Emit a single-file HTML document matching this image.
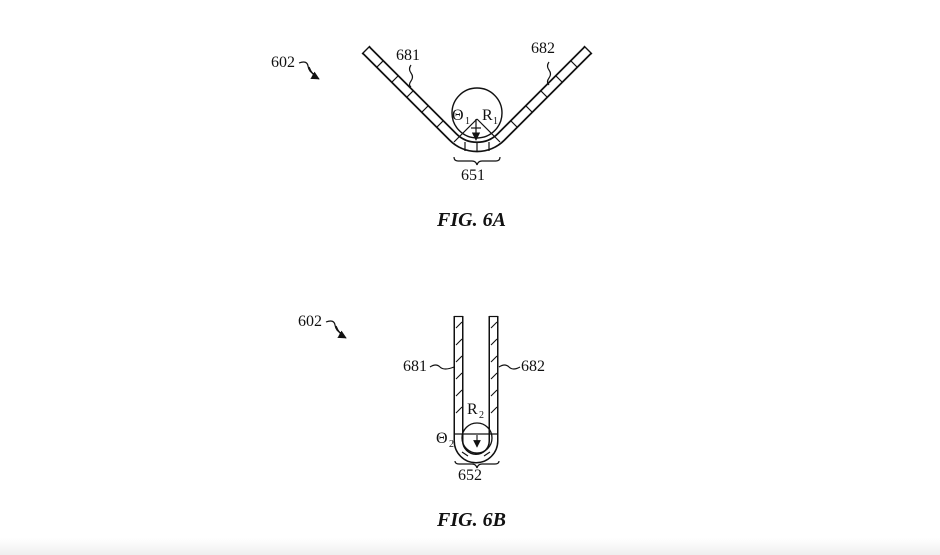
<!DOCTYPE html>
<html><head><style>
html,body{margin:0;padding:0;background:#fff;}
body{width:940px;height:555px;overflow:hidden;position:relative;}
svg{position:absolute;left:0;top:0;}
text{font-family:"Liberation Serif",serif;fill:#111;}
</style></head><body>
<div style="position:absolute;left:0;top:538px;width:940px;height:17px;background:linear-gradient(#fff,#efefef);"></div>
<svg width="940" height="555" viewBox="0 0 940 555">
<defs>
<marker id="ah" viewBox="0 0 10 10" refX="9" refY="5" markerWidth="7" markerHeight="7" orient="auto"><path d="M0,0 L10,5 L0,10 z" fill="#111"/></marker>
</defs>
<!-- FIG 6A -->
<path d="M366,50 L453,137 A34,34 0 0 0 501,137 L588,50" fill="none" stroke="#111" stroke-width="11" stroke-linecap="butt"/>
<path d="M366,50 L453,137 A34,34 0 0 0 501,137 L588,50" fill="none" stroke="#fff" stroke-width="7.5" stroke-linecap="butt"/>
<line x1="362" y1="54" x2="370" y2="46" stroke="#111" stroke-width="1.3"/>
<line x1="584" y1="46" x2="592" y2="54" stroke="#111" stroke-width="1.3"/>
<g stroke="#111" stroke-width="1.2">
<line x1="377" y1="67" x2="383" y2="61"/><line x1="392" y1="82" x2="398" y2="76"/><line x1="407" y1="97" x2="413" y2="91"/><line x1="422" y1="112" x2="428" y2="106"/><line x1="437" y1="127" x2="443" y2="121"/>
<line x1="577" y1="67" x2="571" y2="61"/><line x1="562" y1="82" x2="556" y2="76"/><line x1="547" y1="97" x2="541" y2="91"/><line x1="532" y1="112" x2="526" y2="106"/><line x1="517" y1="127" x2="511" y2="121"/>
<line x1="465" y1="142" x2="465" y2="151"/><line x1="477" y1="143" x2="477" y2="152"/><line x1="489" y1="142" x2="489" y2="151"/>
</g>
<circle cx="477" cy="113" r="25" fill="none" stroke="#111" stroke-width="1.4"/>
<g stroke="#111" stroke-width="1.2" fill="none">
<line x1="477" y1="119" x2="454" y2="142"/><line x1="477" y1="119" x2="500" y2="142"/>
<line x1="476" y1="119" x2="476" y2="140" marker-end="url(#ah)"/>
<line x1="471" y1="128" x2="481" y2="128"/>
<path d="M454,157 q0,4 4,4 h14 q4,0 5,4 q1,-4 5,-4 h14 q4,0 4,-4"/>
<path d="M411,65 q-3,4 0,8 q3,4 0,8 q-3,4 0,6"/>
<path d="M549,62 q-3,4 0,8 q3,4 0,8 q-3,4 0,7"/>
<path d="M299,63 q8,-3 9,3 q1,6 6,8" />
</g>
<path d="M309,67 q3,8 10,12" fill="none" stroke="#111" stroke-width="1.2" marker-end="url(#ah)"/>
<text x="271" y="67" font-size="16">602</text>
<text x="396" y="60" font-size="16">681</text>
<text x="531" y="53" font-size="16">682</text>
<text x="452" y="120" font-size="16">Θ</text><text x="465" y="124" font-size="10">1</text>
<text x="482" y="120" font-size="16">R</text><text x="493" y="124" font-size="10">1</text>
<text x="461" y="180" font-size="16">651</text>
<text x="437" y="226" font-size="20" font-style="italic" font-weight="bold">FIG. 6A</text>
<!-- FIG 6B -->
<path d="M458.5,316 L458.5,441 A17.5,17.5 0 0 0 493.5,441 L493.5,316" fill="none" stroke="#111" stroke-width="10"/>
<path d="M458.5,316 L458.5,441 A17.5,17.5 0 0 0 493.5,441 L493.5,316" fill="none" stroke="#fff" stroke-width="7"/>
<line x1="454" y1="316.5" x2="463" y2="316.5" stroke="#111" stroke-width="1.2"/>
<line x1="489" y1="316.5" x2="498" y2="316.5" stroke="#111" stroke-width="1.2"/>
<g stroke="#111" stroke-width="1.1">
<line x1="456" y1="328" x2="462" y2="322"/><line x1="456" y1="345" x2="462" y2="339"/><line x1="456" y1="362" x2="462" y2="356"/><line x1="456" y1="379" x2="462" y2="373"/><line x1="456" y1="396" x2="462" y2="390"/><line x1="456" y1="413" x2="462" y2="407"/>
<line x1="491" y1="328" x2="497" y2="322"/><line x1="491" y1="345" x2="497" y2="339"/><line x1="491" y1="362" x2="497" y2="356"/><line x1="491" y1="379" x2="497" y2="373"/><line x1="491" y1="396" x2="497" y2="390"/><line x1="491" y1="413" x2="497" y2="407"/>
<line x1="462" y1="452" x2="468" y2="456"/><line x1="484" y1="456" x2="490" y2="452"/>
</g>
<circle cx="477" cy="438" r="15" fill="none" stroke="#111" stroke-width="1.3"/>
<line x1="455" y1="434" x2="498" y2="434" stroke="#111" stroke-width="1.2"/>
<line x1="477" y1="435" x2="477" y2="447" stroke="#111" stroke-width="1.1" marker-end="url(#ah)"/>
<g stroke="#111" stroke-width="1.2" fill="none">
<path d="M455,461 q0,3 4,3 h13 q4,0 5,4 q1,-4 5,-4 h13 q4,0 4,-3"/>
<path d="M430,367 q6,-4 10,0 q4,4 14,0"/>
<path d="M499,367 q6,-4 10,0 q4,4 11,0"/>
<path d="M326,322 q8,-3 9,3 q1,6 6,8"/>
</g>
<path d="M336,326 q3,8 10,12" fill="none" stroke="#111" stroke-width="1.2" marker-end="url(#ah)"/>
<text x="298" y="326" font-size="16">602</text>
<text x="403" y="371" font-size="16">681</text>
<text x="521" y="371" font-size="16">682</text>
<text x="467" y="414" font-size="16">R</text><text x="479" y="418" font-size="10">2</text>
<text x="436" y="443" font-size="16">Θ</text><text x="449" y="447" font-size="10">2</text>
<text x="458" y="480" font-size="16">652</text>
<text x="437" y="526" font-size="20" font-style="italic" font-weight="bold">FIG. 6B</text>
</svg>
</body></html>
